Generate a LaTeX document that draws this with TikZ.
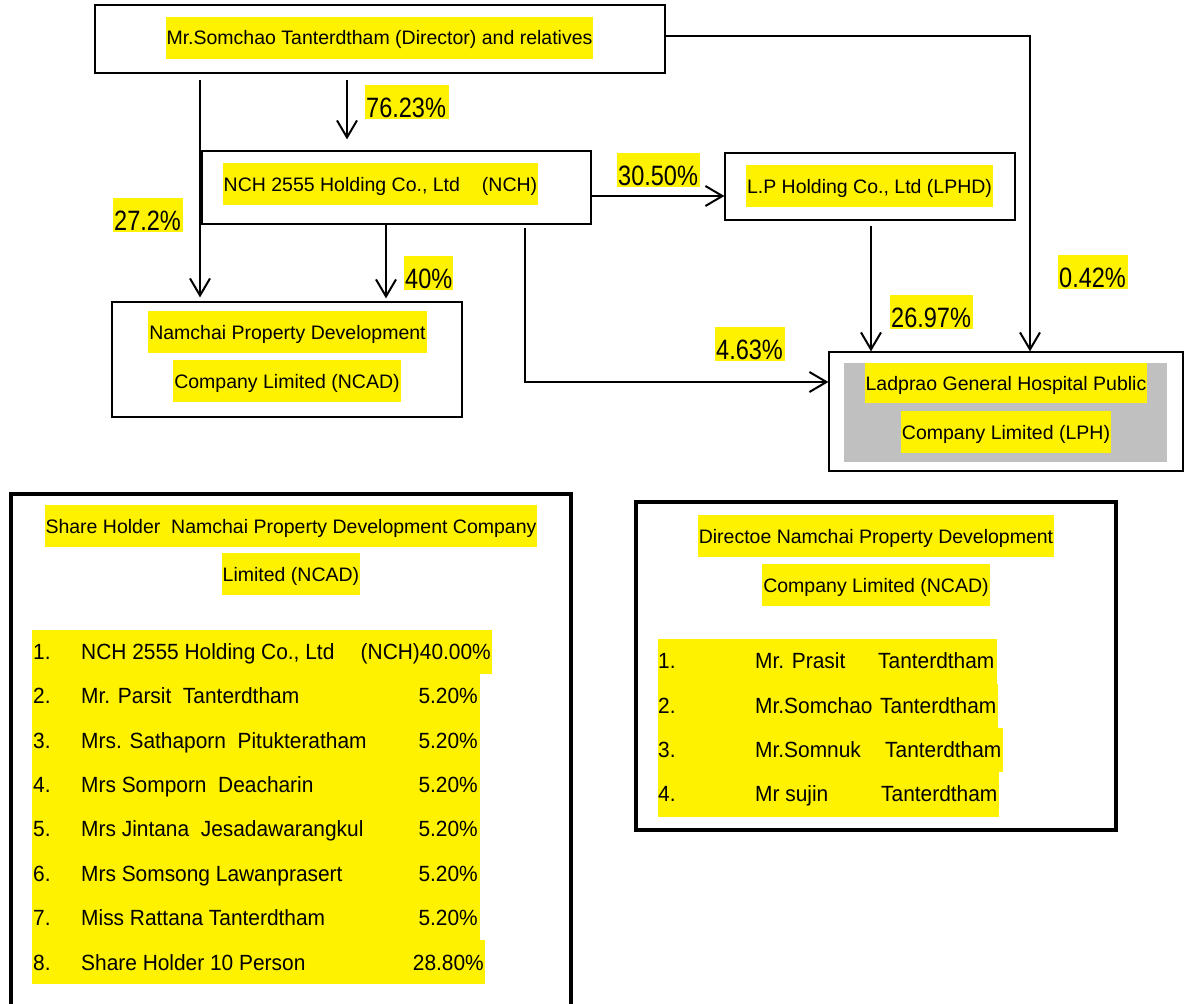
\documentclass[tikz,border=0pt]{standalone}
\usepackage{fontspec}
\setmainfont{Liberation Sans}
\newfontfamily\pctfont{Liberation Sans}[FakeStretch=0.84]
\newfontfamily\lstfont{Liberation Sans}[FakeStretch=0.95]
\usetikzlibrary{arrows.meta}
\begin{document}
\begin{tikzpicture}[x=1pt,y=-1pt,
  box/.style={draw, line width=1.2pt, inner sep=0pt},
  bigbox/.style={draw, line width=4pt, inner sep=0pt},
  hl/.style={fill=yellow, inner xsep=1pt, inner ysep=0pt, text height=28pt, text depth=14pt, anchor=base, font=\fontsize{19.5}{22}\selectfont},
  pct/.style={fill=yellow, inner xsep=1pt, inner ysep=0pt, text height=32pt, text depth=2pt, anchor=base west, font=\pctfont\fontsize{28}{30}\selectfont},
  lst/.style={inner sep=0pt, font=\lstfont\fontsize{22}{26}\selectfont},
  arr/.style={line width=2pt, -{Straight Barb[length=17pt,width=20pt]}},
  ln/.style={line width=2pt}]
\useasboundingbox (0,0) rectangle (1187,1004);
\fill[white] (0,0) rectangle (1187,1004);

% ---------- upper diagram boxes ----------
\node[box, minimum width=570pt, minimum height=68pt] (dir) at (380,39) {};
\node[hl] (dirT) at (379.5,44.5) {Mr.Somchao Tanterdtham (Director) and relatives};

\node[box, minimum width=389pt, minimum height=73pt] (nch) at (396.5,187.5) {};
\node[hl] (nchT) at (380.5,191) {NCH 2555 Holding Co., Ltd\hspace{22pt}(NCH)};

\node[box, minimum width=290pt, minimum height=67pt] (lphd) at (870,186.5) {};
\node[hl] (lphdT) at (869.5,193) {L.P Holding Co., Ltd (LPHD)};

\node[box, minimum width=350pt, minimum height=115pt] (ncad) at (287,359.5) {};
\node[hl] (ncadT1) at (287.5,339) {Namchai Property Development};
\node[hl] (ncadT2) at (287,388) {Company Limited (NCAD)};

\node[box, minimum width=354pt, minimum height=119pt] (lph) at (1006,411.5) {};
\node[fill={rgb,255:red,192;green,192;blue,192}, minimum width=323pt, minimum height=99pt, inner sep=0pt] (lphG) at (1005.5,412.5) {};
\node[hl, text height=27pt, text depth=13pt] (lphT1) at (1006,390) {Ladprao General Hospital Public};
\node[hl] (lphT2) at (1006,439) {Company Limited (LPH)};

% ---------- connectors ----------
\coordinate (a1) at (200,80);
\draw[arr, shorten >=4pt] (a1) -- (a1 |- ncad.north);
\coordinate (a2) at (347,80);
\draw[arr, shorten >=11pt] (a2) -- (a2 |- nch.north);
\coordinate (a3) at (386,224);
\draw[arr, shorten >=3pt] (a3) -- (a3 |- ncad.north);
\coordinate (a4) at (591,196);
\draw[arr] (a4) -- (a4 -| lphd.west);
\coordinate (a5) at (525,228);
\coordinate (a5b) at (525,382);
\draw[arr] (a5) -- (a5b) -- (a5b -| lph.west);
\coordinate (a6) at (871,226);
\draw[arr] (a6) -- (a6 |- lph.north);
\coordinate (a7) at (665,36);
\coordinate (a7b) at (1030,36);
\draw[arr] (a7) -- (a7b) -- (a7b |- lph.north);

% ---------- percentage labels ----------
\node[pct, text width=82pt] (p1) at (365,117) {76.23\%};
\node[pct, text width=68pt] (p2) at (113,230) {27.2\%};
\node[pct, text width=47pt] (p3) at (404,288) {40\%};
\node[pct, text width=81pt] (p4) at (617,185) {30.50\%};
\node[pct, text width=68pt] (p5) at (1058,287) {0.42\%};
\node[pct, text width=81pt] (p6) at (890,327) {26.97\%};
\node[pct, text width=68pt] (p7) at (715,359) {4.63\%};

% ---------- share holder box ----------
\node[bigbox, minimum width=560pt, minimum height=560pt] (shbox) at (291,774) {};
\node[hl] (shT1) at (291,533) {Share Holder\ \ Namchai Property Development Company};
\node[hl] (shT2) at (291,581) {Limited (NCAD)};
\fill[yellow] (32,630) rectangle (480,984);
\fill[yellow] (32,630) rectangle (492,674);
\fill[yellow] (32,940) rectangle (485,984);
\foreach \i/\y/\nm/\pc/\px in {
  1/659/{NCH 2555 Holding Co., Ltd}/{(NCH)40.00\%}/491,
  2/703/{Mr. Parsit\ \ Tanterdtham}/{5.20\%}/478,
  3/748/{Mrs. Sathaporn\ \ Pitukteratham}/{5.20\%}/478,
  4/792/{Mrs Somporn\ \ Deacharin}/{5.20\%}/478,
  5/836/{Mrs Jintana\ \ Jesadawarangkul}/{5.20\%}/478,
  6/881/{Mrs Somsong Lawanprasert}/{5.20\%}/478,
  7/925/{Miss Rattana Tanterdtham}/{5.20\%}/478,
  8/970/{Share Holder 10 Person}/{28.80\%}/484}{
  \node[lst, anchor=base west] (sn\i) at (33,\y) {\i.};
  \node[lst, anchor=base west] (sm\i) at (81,\y) {\nm};
  \node[lst, anchor=base east] (sp\i) at (\px,\y) {\pc};
}

% ---------- director box ----------
\node[bigbox, minimum width=480pt, minimum height=328pt] (dbox) at (876,666) {};
\node[hl] (dT1) at (876,543) {Directoe Namchai Property Development};
\node[hl] (dT2) at (876,592) {Company Limited (NCAD)};
\fill[yellow] (658,639) rectangle (997,817);
\fill[yellow] (658,684) rectangle (998,728);
\fill[yellow] (658,728) rectangle (1003,772);
\fill[yellow] (658,772) rectangle (999,817);
\foreach \i/\y/\fn/\sx in {1/668/{Mr. Prasit}/878, 2/713/{Mr.Somchao}/880, 3/757/{Mr.Somnuk}/885, 4/801/{Mr sujin}/881}{
  \node[lst, anchor=base west] (dn\i) at (658,\y) {\i.};
  \node[lst, anchor=base west] (df\i) at (755,\y) {\fn};
  \node[lst, anchor=base west] (ds\i) at (\sx,\y) {Tanterdtham};
}
\end{tikzpicture}
\end{document}
